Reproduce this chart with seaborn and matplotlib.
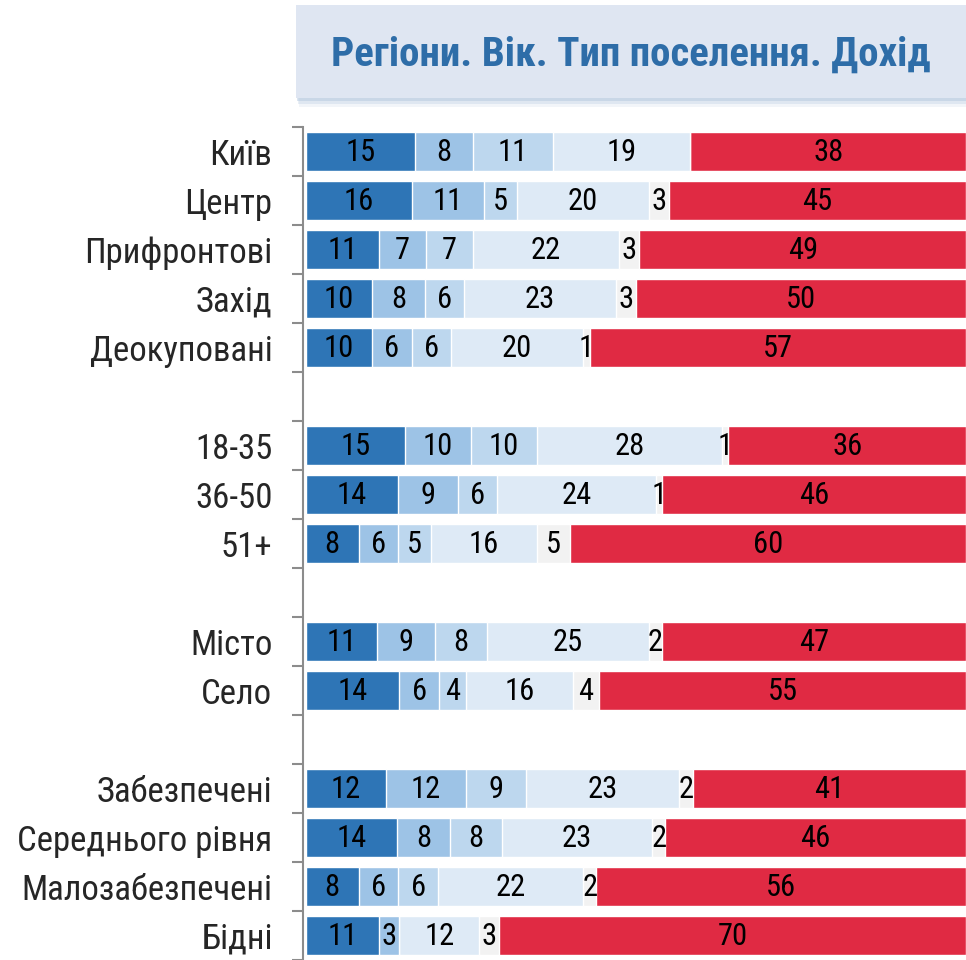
import matplotlib
matplotlib.use("Agg")
import matplotlib.pyplot as plt
from matplotlib.patches import Rectangle
import numpy as np
import pandas as pd
import seaborn as sns

# categories (blank strings are spacer rows between groups)
rows = ["Київ", "Центр", "Прифронтові", "Захід", "Деокуповані", " ",
        "18-35", "36-50", "51+", "  ",
        "Місто", "Село", "   ",
        "Забезпечені", "Середнього рівня", "Малозабезпечені", "Бідні"]
groups = ["Київ", "Центр", "Прифронтові", "Захід", "Деокуповані",
          "18-35", "36-50", "51+", "Місто", "Село",
          "Забезпечені", "Середнього рівня", "Малозабезпечені", "Бідні"]

# six answer segments per row (values as labelled on the chart)
seg1 = [15, 16, 11, 10, 10, 15, 14, 8, 11, 14, 12, 14, 8, 11]
seg2 = [8, 11, 7, 8, 6, 10, 9, 6, 9, 6, 12, 8, 6, 3]
seg3 = [11, 5, 7, 6, 6, 10, 6, 5, 8, 4, 9, 8, 6, 0]
seg4 = [19, 20, 22, 23, 20, 28, 24, 16, 25, 16, 23, 23, 22, 12]
seg5 = [0, 3, 3, 3, 1, 1, 1, 5, 2, 4, 2, 2, 2, 3]
seg6 = [38, 45, 49, 50, 57, 36, 46, 60, 47, 55, 41, 46, 56, 70]

colors = ["#2E75B6", "#9DC3E6", "#BDD7EE", "#DEEAF6", "#F2F2F2", "#E02A43"]
title = "Регіони. Вік. Тип поселення. Дохід"

sns.set_style("white")
plt.rcParams["font.family"] = ["Roboto Condensed", "PT Sans Narrow", "DejaVu Sans"]

vals = np.array([seg1, seg2, seg3, seg4, seg5, seg6], dtype=float).T
shares = vals / vals.sum(axis=1, keepdims=True) * 100  # 100% stacked
cum = np.cumsum(shares, axis=1)

fig = plt.figure(figsize=(9.66, 9.6), dpi=100)
ax = fig.add_axes([0.3136, 0.0, 0.6864, 0.8677])

# draw cumulative layers from the widest to the narrowest
for k in range(5, -1, -1):
    df = pd.DataFrame({"row": groups, "value": cum[:, k]})
    sns.barplot(data=df, y="row", x="value", order=rows, orient="h",
                color=colors[k], saturation=1, width=0.8,
                edgecolor="white", linewidth=1, ax=ax)

# segment labels
for i, g in enumerate(groups):
    y = rows.index(g)
    start = 0
    for k in range(6):
        if vals[i, k] > 0:
            ax.text(start + shares[i, k] / 2, y + 0.02, f"{int(vals[i, k])}",
                    ha="center", va="center", fontsize=22, color="black")
        start = cum[i, k]

ax.set_xlim(-0.45, 100)
ax.set_ylim(len(rows) - 0.5, -0.5)
ax.set_xlabel("")
ax.set_ylabel("")
ax.set_xticks([])
ax.set_yticks(range(len(rows)))
ax.set_yticklabels([r.strip() for r in rows], fontsize=25)
ax.set_yticks(np.arange(-0.5, len(rows), 1), minor=True)
ax.tick_params(axis="y", which="major", length=0, pad=22)
ax.tick_params(axis="y", which="minor", length=8, width=1.5, color="#8C8C8C", left=True)
for s in ["top", "right", "bottom"]:
    ax.spines[s].set_visible(False)
ax.spines["left"].set_color("#8C8C8C")
ax.spines["left"].set_linewidth(1.5)

# title box with soft shadow
for off, a in [(0.009, 0.15), (0.006, 0.25), (0.003, 0.4)]:
    fig.patches.append(Rectangle((0.3064 + off * 0.3, 0.898 - off), 0.7, 0.0968,
                                 transform=fig.transFigure, facecolor="#A9C0DA",
                                 alpha=a, edgecolor="none", zorder=0))
fig.patches.append(Rectangle((0.3064, 0.898), 0.7, 0.0968, transform=fig.transFigure,
                             facecolor="#DFE6F2", edgecolor="none", zorder=1))
fig.text(0.653, 0.943, title, ha="center", va="center", fontsize=29.5,
         fontweight="bold", color="#2E6DA8")

fig.savefig("out.png", dpi=100)
